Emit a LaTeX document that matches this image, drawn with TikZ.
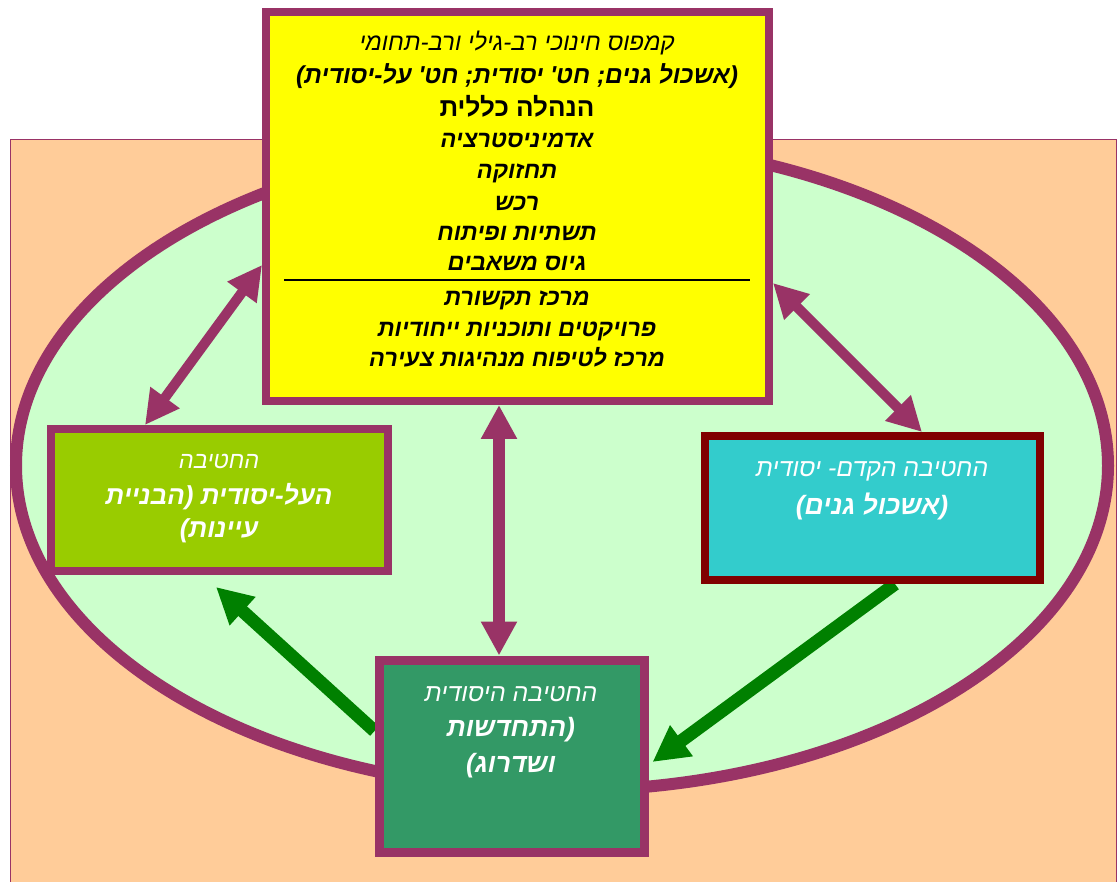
\documentclass[tikz,border=0pt]{standalone}
\usepackage{fontspec}
\usetikzlibrary{arrows.meta,calc}
\TeXXeTstate=1
\newfontfamily\heb[Script=Hebrew]{Liberation Sans}
\newcommand\fsz[1]{\fontsize{#1}{#1}\selectfont}
\definecolor{plum}{HTML}{993366}
\definecolor{peach}{HTML}{FFCC99}
\definecolor{lgreen}{HTML}{CCFFCC}
\definecolor{ylw}{HTML}{FFFF00}
\definecolor{lime}{HTML}{99CC00}
\definecolor{teal}{HTML}{33CCCC}
\definecolor{maroon}{HTML}{800000}
\definecolor{sea}{HTML}{339966}
\definecolor{darr}{HTML}{008000}
\tikzset{
  box/.style={draw=plum, rectangle, inner sep=0pt},
  ln/.style={inner sep=0pt, anchor=base},
  hit/.style={ln, font=\heb\itshape\fsz{#1}},
  hbi/.style={ln, font=\heb\bfseries\itshape\fsz{#1}},
  hb/.style={ln, font=\heb\bfseries\fsz{#1}},
  parrow/.style={draw=plum, line width=10pt, {Triangle[length=34pt,width=34pt]}-{Triangle[length=34pt,width=34pt]}},
  garrow/.style={draw=darr, line width=13pt, -{Triangle[length=36pt,width=36pt]}},
}
\begin{document}
\begin{tikzpicture}[x=1pt,y=-1pt]
\useasboundingbox (0,0) rectangle (1117,882);
\fill[white] (0,0) rectangle (1117,882);
\filldraw[fill=peach, draw=plum, line width=1pt] (10,140) rectangle (1116,890);
\filldraw[fill=lgreen, draw=plum, line width=12pt] (562,465.6) ellipse [x radius=546, y radius=325];

% box placeholders for anchors (drawn later)
\path (517.5,206.5) node[box, line width=8pt, minimum width=503pt, minimum height=389pt] (yb) {};
\path (219.5,500) node[box, line width=8pt, minimum width=337pt, minimum height=142pt] (lb) {};
\path (872.5,508) node[box, line width=8pt, minimum width=335pt, minimum height=144pt] (rb) {};
\path (511.5,756) node[box, line width=9pt, minimum width=265pt, minimum height=192pt] (bb) {};

% arrows
\draw[garrow] (bb.west |- 0,731) -- ($(lb.south -| 216,0)+(0,12)$);
\draw[garrow] (rb.south -| 895,0) -- ($(bb.east |- 0,762)+(4,0)$);
\draw[parrow] (yb.west |- 0,265) -- (lb.north -| 145,0);
\draw[parrow] (yb.east |- 0,283) -- (rb.north -| 922,0);
\draw[parrow, line width=12pt] (yb.south -| 499,0) -- (bb.north -| 499,0);

% boxes
\path (517.5,206.5) node[box, fill=ylw, line width=8pt, minimum width=503pt, minimum height=389pt] {};
\path (219.5,500) node[box, fill=lime, line width=8pt, minimum width=337pt, minimum height=142pt] {};
\path (872.5,508) node[box, fill=teal, draw=maroon, line width=8pt, minimum width=335pt, minimum height=144pt] {};
\path (511.5,756) node[box, fill=sea, line width=9pt, minimum width=265pt, minimum height=192pt] {};

% yellow box text
\node[hit=24] (t1) at (517,50.5) {\beginR קמפוס חינוכי רב-גילי ורב-תחומי\endR};
\node[hbi=24.5] (t2) at (517,83.5) {\beginR (אשכול גנים; חט' יסודית; חט' על-יסודית)\endR};
\node[hb=26] (t3) at (517,116.5) {\beginR הנהלה כללית\endR};
\node[hbi=23.5] (t4) at (517,147.5) {\beginR אדמיניסטרציה\endR};
\node[hbi=23.5] (t5) at (517,178.5) {\beginR תחזוקה\endR};
\node[hbi=23.5] (t6) at (517,210.5) {\beginR רכש\endR};
\node[hbi=23.5] (t7) at (517,240.5) {\beginR תשתיות ופיתוח\endR};
\node[hbi=23.5] (t8) at (517,270.5) {\beginR גיוס משאבים\endR};
\coordinate (r1) at (284,280);
\coordinate (r2) at (750,280);
\draw[black, line width=1.5pt] (r1) -- (r2);
\node[hbi=23.5] (t9) at (517,305.5) {\beginR מרכז תקשורת\endR};
\node[hbi=23.5] (t10) at (517,336.5) {\beginR פרויקטים ותוכניות ייחודיות\endR};
\node[hbi=23.5] (t11) at (517,366.5) {\beginR מרכז לטיפוח מנהיגות צעירה\endR};

% left box text
\node[hit=23.5, text=white] (l1) at (219,468.5) {\beginR החטיבה\endR};
\node[hbi=26, text=white] (l2) at (219,504.5) {\beginR העל-יסודית (הבניית\endR};
\node[hbi=26, text=white] (l3) at (219,537.5) {\beginR עיינות)\endR};

% right box text
\node[hit=24.8, text=white] (r1t) at (872,477) {\beginR החטיבה הקדם- יסודית\endR};
\node[hbi=26.5, text=white] (r2t) at (872,514.5) {\beginR (אשכול גנים)\endR};

% bottom box text
\node[hit=24.8, text=white] (b1) at (511,701) {\beginR החטיבה היסודית\endR};
\node[hbi=26.5, text=white] (b2) at (511,736.5) {\beginR (התחדשות\endR};
\node[hbi=26.5, text=white] (b3) at (511,772.5) {\beginR ושדרוג)\endR};
\end{tikzpicture}
\end{document}
